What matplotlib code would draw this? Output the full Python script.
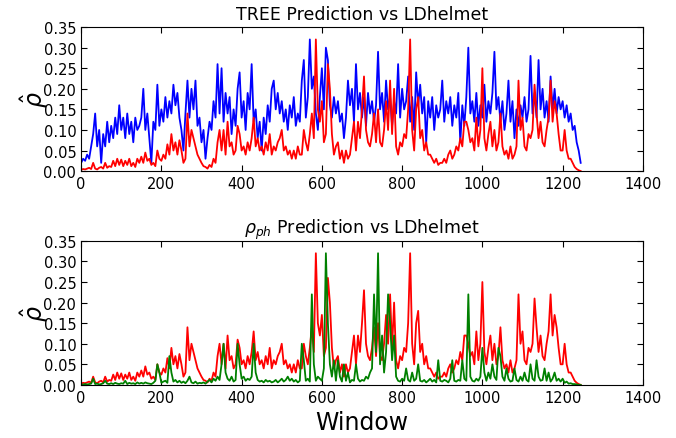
import numpy as np
import matplotlib
matplotlib.use("Agg")
import matplotlib.pyplot as plt
from matplotlib.ticker import FormatStrFormatter

# window index (every 5th window)
window = np.arange(0, 1250, 5)

# LDhelmet estimate (red, same in both panels)
ldhelmet = [
    0.003, 0.005, 0.004, 0.006, 0.008, 0.005, 0.02, 0.006, 0.004, 0.008,
    0.01, 0.006, 0.02, 0.008, 0.012, 0.01, 0.025, 0.012, 0.03, 0.015,
    0.028, 0.012, 0.025, 0.015, 0.03, 0.012, 0.02, 0.01, 0.03, 0.02,
    0.035, 0.02, 0.045, 0.025, 0.03, 0.015, 0.02, 0.012, 0.05, 0.03,
    0.025, 0.04, 0.03, 0.065, 0.04, 0.09, 0.05, 0.07, 0.04, 0.075,
    0.05, 0.02, 0.03, 0.14, 0.06, 0.10, 0.08, 0.06, 0.04, 0.03,
    0.02, 0.012, 0.01, 0.006, 0.015, 0.01, 0.03, 0.02, 0.07, 0.10,
    0.05, 0.10, 0.04, 0.12, 0.06, 0.07, 0.04, 0.05, 0.11, 0.09,
    0.05, 0.06, 0.04, 0.07, 0.05, 0.08, 0.13, 0.06, 0.08, 0.05,
    0.06, 0.04, 0.07, 0.05, 0.09, 0.04, 0.06, 0.05, 0.07, 0.08,
    0.10, 0.05, 0.06, 0.04, 0.05, 0.03, 0.05, 0.03, 0.06, 0.04,
    0.04, 0.10, 0.07, 0.05, 0.09, 0.14, 0.08, 0.32, 0.15, 0.12,
    0.17, 0.07, 0.09, 0.26, 0.20, 0.09, 0.04, 0.06, 0.07, 0.03,
    0.05, 0.02, 0.05, 0.03, 0.04, 0.08, 0.12, 0.05, 0.12, 0.08,
    0.15, 0.23, 0.10, 0.07, 0.06, 0.09, 0.14, 0.07, 0.15, 0.07,
    0.06, 0.10, 0.17, 0.10, 0.22, 0.09, 0.20, 0.06, 0.04, 0.07,
    0.06, 0.09, 0.08, 0.15, 0.32, 0.10, 0.05, 0.15, 0.18, 0.08,
    0.10, 0.05, 0.07, 0.04, 0.04, 0.03, 0.02, 0.03, 0.015, 0.02,
    0.02, 0.03, 0.02, 0.04, 0.05, 0.03, 0.04, 0.06, 0.05, 0.08,
    0.06, 0.12, 0.12, 0.10, 0.07, 0.08, 0.05, 0.13, 0.06, 0.10,
    0.25, 0.08, 0.05, 0.09, 0.12, 0.06, 0.10, 0.05, 0.07, 0.14,
    0.06, 0.04, 0.05, 0.03, 0.06, 0.03, 0.04, 0.06, 0.22, 0.10,
    0.13, 0.06, 0.05, 0.09, 0.08, 0.10, 0.21, 0.14, 0.08, 0.12,
    0.07, 0.06, 0.10, 0.13, 0.22, 0.12, 0.17, 0.14, 0.09, 0.05,
    0.05, 0.10, 0.05, 0.03, 0.03, 0.02, 0.01, 0.005, 0.002, 0.0,
]

# TREE prediction (blue)
tree = [
    0.02, 0.03, 0.025, 0.04, 0.03, 0.06, 0.09, 0.14, 0.06, 0.10,
    0.02, 0.09, 0.06, 0.12, 0.07, 0.11, 0.08, 0.13, 0.09, 0.16,
    0.10, 0.13, 0.08, 0.14, 0.09, 0.12, 0.07, 0.13, 0.10, 0.11,
    0.13, 0.20, 0.10, 0.14, 0.08, 0.02, 0.12, 0.10, 0.21, 0.11,
    0.15, 0.12, 0.18, 0.13, 0.17, 0.14, 0.21, 0.16, 0.19, 0.13,
    0.10, 0.05, 0.14, 0.22, 0.13, 0.20, 0.15, 0.22, 0.11, 0.13,
    0.07, 0.10, 0.03, 0.08, 0.12, 0.10, 0.17, 0.13, 0.26, 0.14,
    0.25, 0.12, 0.19, 0.14, 0.18, 0.09, 0.15, 0.11, 0.20, 0.24,
    0.13, 0.17, 0.10, 0.19, 0.15, 0.26, 0.12, 0.15, 0.08, 0.12,
    0.05, 0.13, 0.09, 0.16, 0.12, 0.20, 0.22, 0.15, 0.19, 0.14,
    0.17, 0.12, 0.15, 0.10, 0.16, 0.13, 0.18, 0.11, 0.14, 0.12,
    0.22, 0.27, 0.13, 0.18, 0.32, 0.20, 0.23, 0.14, 0.10, 0.18,
    0.25, 0.15, 0.30, 0.27, 0.16, 0.13, 0.18, 0.14, 0.17, 0.12,
    0.14, 0.08, 0.13, 0.22, 0.16, 0.20, 0.12, 0.26, 0.15, 0.19,
    0.13, 0.18, 0.11, 0.19, 0.14, 0.17, 0.12, 0.16, 0.29, 0.15,
    0.19, 0.12, 0.22, 0.15, 0.18, 0.11, 0.17, 0.14, 0.26, 0.13,
    0.20, 0.15, 0.17, 0.23, 0.12, 0.18, 0.10, 0.24, 0.16, 0.21,
    0.14, 0.18, 0.07, 0.17, 0.13, 0.18, 0.10, 0.16, 0.13, 0.15,
    0.22, 0.12, 0.17, 0.14, 0.18, 0.11, 0.16, 0.13, 0.19, 0.07,
    0.16, 0.11, 0.18, 0.30, 0.14, 0.17, 0.12, 0.19, 0.11, 0.16,
    0.13, 0.21, 0.12, 0.17, 0.14, 0.19, 0.29, 0.15, 0.18, 0.12,
    0.17, 0.10, 0.14, 0.22, 0.12, 0.17, 0.08, 0.15, 0.11, 0.16,
    0.13, 0.18, 0.12, 0.15, 0.28, 0.14, 0.19, 0.13, 0.27, 0.15,
    0.20, 0.13, 0.17, 0.12, 0.23, 0.15, 0.20, 0.14, 0.18, 0.15,
    0.17, 0.13, 0.16, 0.12, 0.14, 0.10, 0.11, 0.07, 0.05, 0.02,
]

# rho_ph prediction (green)
rho_ph = [
    0.0, 0.001, 0.002, 0.001, 0.002, 0.003, 0.015, 0.002, 0.003, 0.001,
    0.002, 0.004, 0.01, 0.003, 0.002, 0.004, 0.002, 0.005, 0.003, 0.002,
    0.004, 0.003, 0.01, 0.002, 0.005, 0.003, 0.004, 0.002, 0.006, 0.003,
    0.005, 0.003, 0.006, 0.004, 0.003, 0.002, 0.005, 0.01, 0.05, 0.03,
    0.005, 0.008, 0.01, 0.005, 0.07, 0.03, 0.008, 0.012, 0.006, 0.01,
    0.005, 0.008, 0.004, 0.01, 0.02, 0.006, 0.004, 0.008, 0.003, 0.005,
    0.004, 0.006, 0.003, 0.008, 0.012, 0.006, 0.015, 0.01, 0.02, 0.012,
    0.05, 0.10, 0.03, 0.015, 0.01, 0.02, 0.008, 0.012, 0.10, 0.05,
    0.015, 0.02, 0.01, 0.015, 0.012, 0.02, 0.10, 0.03, 0.012, 0.008,
    0.01, 0.006, 0.012, 0.008, 0.01, 0.006, 0.008, 0.012, 0.006, 0.01,
    0.015, 0.008, 0.012, 0.02, 0.01, 0.015, 0.008, 0.012, 0.006, 0.01,
    0.10, 0.06, 0.01, 0.015, 0.008, 0.22, 0.05, 0.01, 0.02, 0.015,
    0.01, 0.04, 0.32, 0.15, 0.05, 0.02, 0.06, 0.01, 0.06, 0.02,
    0.008, 0.05, 0.01, 0.03, 0.006, 0.012, 0.01, 0.05, 0.015, 0.008,
    0.012, 0.01, 0.02, 0.015, 0.03, 0.04, 0.22, 0.08, 0.32, 0.05,
    0.12, 0.03, 0.08, 0.22, 0.15, 0.06, 0.12, 0.02, 0.01, 0.008,
    0.015, 0.01, 0.04, 0.012, 0.008, 0.03, 0.01, 0.015, 0.05, 0.01,
    0.008, 0.012, 0.006, 0.01, 0.015, 0.008, 0.012, 0.006, 0.06, 0.01,
    0.008, 0.012, 0.01, 0.006, 0.015, 0.06, 0.01, 0.008, 0.012, 0.01,
    0.06, 0.015, 0.01, 0.22, 0.02, 0.01, 0.008, 0.015, 0.01, 0.02,
    0.09, 0.03, 0.01, 0.03, 0.015, 0.05, 0.02, 0.012, 0.09, 0.07,
    0.02, 0.01, 0.04, 0.015, 0.008, 0.01, 0.04, 0.012, 0.008, 0.02,
    0.01, 0.03, 0.012, 0.008, 0.05, 0.015, 0.01, 0.06, 0.02, 0.01,
    0.012, 0.04, 0.01, 0.03, 0.008, 0.015, 0.03, 0.01, 0.015, 0.008,
    0.015, 0.005, 0.008, 0.003, 0.004, 0.002, 0.002, 0.001, 0.0, 0.0,
]

fig = plt.figure(figsize=(6.76, 4.39), dpi=100)
ax1 = fig.add_axes([0.120, 0.608, 0.831, 0.328])
ax2 = fig.add_axes([0.120, 0.121, 0.831, 0.328])

ax1.plot(window, tree, color="b", lw=1.3)
ax1.plot(window, ldhelmet, color="r", lw=1.3)
ax1.set_title("TREE Prediction vs LDhelmet", fontsize=12.5)

ax2.plot(window, ldhelmet, color="r", lw=1.3)
ax2.plot(window, rho_ph, color="g", lw=1.3)
ax2.set_title(r"$\rho_{ph}$ Prediction vs LDhelmet", fontsize=12.5)
ax2.set_xlabel("Window", fontsize=17)

for ax in (ax1, ax2):
    ax.set_xlim(0, 1400)
    ax.set_ylim(0, 0.35)
    ax.set_yticks(np.arange(0, 0.351, 0.05))
    ax.yaxis.set_major_formatter(FormatStrFormatter("%.2f"))
    ax.tick_params(direction="in", top=True, right=True, labelsize=10.5, length=4)
    ax.set_ylabel(r"$\hat{\rho}$", fontsize=17, labelpad=-5)

fig.savefig("out.png", dpi=100)
